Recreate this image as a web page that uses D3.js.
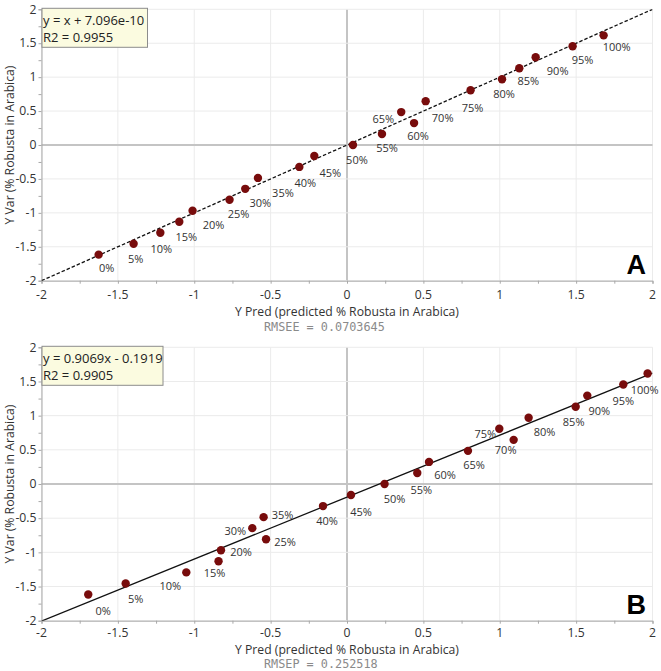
<!DOCTYPE html>
<html><head><meta charset="utf-8">
<script src="https://cdn.jsdelivr.net/npm/d3@7"></script>
<style>
html,body{margin:0;padding:0;background:#fff;}
svg{display:block;font-family:"Open Sans",sans-serif;}
</style></head>
<body><svg id="c" width="661" height="671"></svg>
<script>
// ---- data ----
const labels = ["0%","5%","10%","15%","20%","25%","30%","35%","40%","45%","50%","55%","60%","65%","70%","75%","80%","85%","90%","95%","100%"];
const yVar = [-1.616,-1.455,-1.293,-1.131,-0.970,-0.808,-0.646,-0.485,-0.323,-0.162,0.0,0.162,0.323,0.485,0.646,0.808,0.970,1.131,1.293,1.455,1.616];
const predCal = [-1.626,-1.397,-1.222,-1.098,-1.011,-0.769,-0.666,-0.583,-0.312,-0.214,0.039,0.229,0.439,0.355,0.515,0.809,1.015,1.128,1.235,1.477,1.680];
const predVal = [-1.694,-1.449,-1.052,-0.841,-0.825,-0.530,-0.620,-0.546,-0.157,0.026,0.246,0.460,0.537,0.792,1.091,0.997,1.189,1.497,1.573,1.809,1.968];
const fitA = {slope:1, intercept:7.096e-10, eq:"y = x + 7.096e-10", r2:"R2 = 0.9955", err:"RMSEE = 0.0703645", tag:"A"};
const fitB = {slope:0.9069, intercept:-0.1919, eq:"y = 0.9069x - 0.1919", r2:"R2 = 0.9905", err:"RMSEP = 0.252518", tag:"B"};
const tickVals = [-2,-1.5,-1,-0.5,0,0.5,1,1.5,2];
const xTitle = "Y Pred (predicted % Robusta in Arabica)";
const yTitle = "Y Var (% Robusta in Arabica)";

// ---- layout (label offsets, px) ----
const offA = [[8,14],[2,15],[1,16],[7,15],[21,14],[9,14],[15,14],[25,15],[6,16],[16,17],[4,15],[5,14],[4,13],[-18,7],[17,17],[2,18],[2,15],[9,13],[22,14],[10,14],[13,12]];
const offB = [[15,17],[10,16],[-16,14],[-4,12],[20,2],[19,3],[-17,3],[19,-2],[4,15],[10,17],[10,15],[4,17],[16,13],[6,14],[-8,10],[-14,5],[16,14],[-2,15],[12,16],[0,17],[-3,17]];

const svg = d3.select("#c");
const x0 = 41.5, x1 = 652.5;

function panel(id, top, bottom, xs, fit, offs, dashed, legW, tickY, titleY, errY){
  const g = svg.append("g");
  const x = d3.scaleLinear().domain([-2,2]).range([x0,x1]);
  const y = d3.scaleLinear().domain([-2,2]).range([bottom,top]);
  // grid
  g.append("g").selectAll("line").data(tickVals).join("line")
    .attr("x1",d=>x(d)).attr("x2",d=>x(d)).attr("y1",top).attr("y2",bottom)
    .attr("stroke",d=>d===0?"#c4c4c4":"#ebebeb").attr("stroke-width",d=>d===0?2:1);
  g.append("g").selectAll("line").data(tickVals).join("line")
    .attr("y1",d=>y(d)).attr("y2",d=>y(d)).attr("x1",x0).attr("x2",x1)
    .attr("stroke",d=>d===0?"#c4c4c4":"#ebebeb").attr("stroke-width",d=>d===0?2:1);
  // axes
  const minor = d3.range(-2,2.001,0.25);
  const ax = g.append("g").attr("transform",`translate(0,${bottom})`)
    .call(d3.axisBottom(x).tickValues(minor).tickSize(3).tickFormat(""));
  ax.select(".domain").attr("stroke","#a8a8a8");
  ax.selectAll(".tick line").attr("stroke","#a8a8a8");
  const ay = g.append("g").attr("transform",`translate(${x0},0)`)
    .call(d3.axisLeft(y).tickValues(minor).tickSize(3).tickFormat(""));
  ay.select(".domain").attr("stroke","#a8a8a8");
  ay.selectAll(".tick line").attr("stroke","#a8a8a8");
  // tick labels
  g.append("g").selectAll("text").data(tickVals).join("text")
    .attr("x",d=>x(d)).attr("y",bottom+tickY).attr("text-anchor","middle")
    .attr("font-size",12.2).attr("fill","#333").text(d=>String(d));
  g.append("g").selectAll("text").data(tickVals).join("text")
    .attr("x",x0-5).attr("y",d=>y(d)).attr("dy","0.35em").attr("text-anchor","end")
    .attr("font-size",12.2).attr("fill","#333").text(d=>String(d));
  // titles
  g.append("text").attr("x",(x0+x1)/2).attr("y",bottom+titleY).attr("text-anchor","middle")
    .attr("font-size",12.2).attr("fill","#333").text(xTitle);
  g.append("text").attr("transform",`translate(14,${(top+bottom)/2}) rotate(-90)`)
    .attr("text-anchor","middle").attr("font-size",12.2).attr("fill","#333").text(yTitle);
  g.append("text").attr("x",264).attr("y",bottom+errY)
    .attr("font-family","'DejaVu Sans Mono',monospace").attr("font-size",11.8).attr("fill","#8a8a8a")
    .text(fit.err);
  // clip
  svg.append("clipPath").attr("id","clip"+id).append("rect")
    .attr("x",x0).attr("y",top).attr("width",x1-x0).attr("height",bottom-top);
  // regression line
  const line = d3.line().x(d=>x(d)).y(d=>y(fit.slope*d+fit.intercept));
  g.append("path").datum([-2,2]).attr("d",line).attr("clip-path",`url(#clip${id})`)
    .attr("fill","none").attr("stroke","#111").attr("stroke-width",1.3)
    .attr("stroke-dasharray",dashed?"3.5,2":null);
  // points
  const pts = xs.map((v,i)=>({x:v,y:yVar[i],l:labels[i],o:offs[i]}));
  g.append("g").selectAll("circle").data(pts).join("circle")
    .attr("cx",d=>x(d.x)).attr("cy",d=>y(d.y)).attr("r",4.2).attr("fill","#780c0c");
  g.append("g").selectAll("text").data(pts).join("text")
    .attr("x",d=>x(d.x)+d.o[0]).attr("y",d=>y(d.y)+d.o[1]).attr("dy","0.35em")
    .attr("text-anchor","middle").attr("font-size",11).attr("fill","#333").text(d=>d.l);
  // legend box
  const lg = g.append("g");
  lg.append("rect").attr("x",x0+0.5).attr("y",top-1).attr("width",legW).attr("height",39)
    .attr("fill","#fbfbe0").attr("stroke","#8c8c8c").attr("stroke-width",1);
  lg.append("text").attr("x",x0+1.5).attr("y",top+16).attr("font-size",13).attr("fill","#222").text(fit.eq);
  lg.append("text").attr("x",x0+1.5).attr("y",top+32.5).attr("font-size",13).attr("fill","#222").text(fit.r2);
  // tag
  g.append("text").attr("x",646).attr("y",bottom-7).attr("text-anchor","end")
    .attr("font-family","'Liberation Sans',Arial,sans-serif").attr("font-weight","bold")
    .attr("font-size",27).attr("fill","#000").text(fit.tag);
}
panel("A", 9.3, 280.7, predCal, fitA, offA, true, 105.5, 18.5, 35, 50);
panel("B", 347.3, 620.7, predVal, fitB, offB, false, 121, 16.6, 33.3, 47.7);
</script></body></html>
